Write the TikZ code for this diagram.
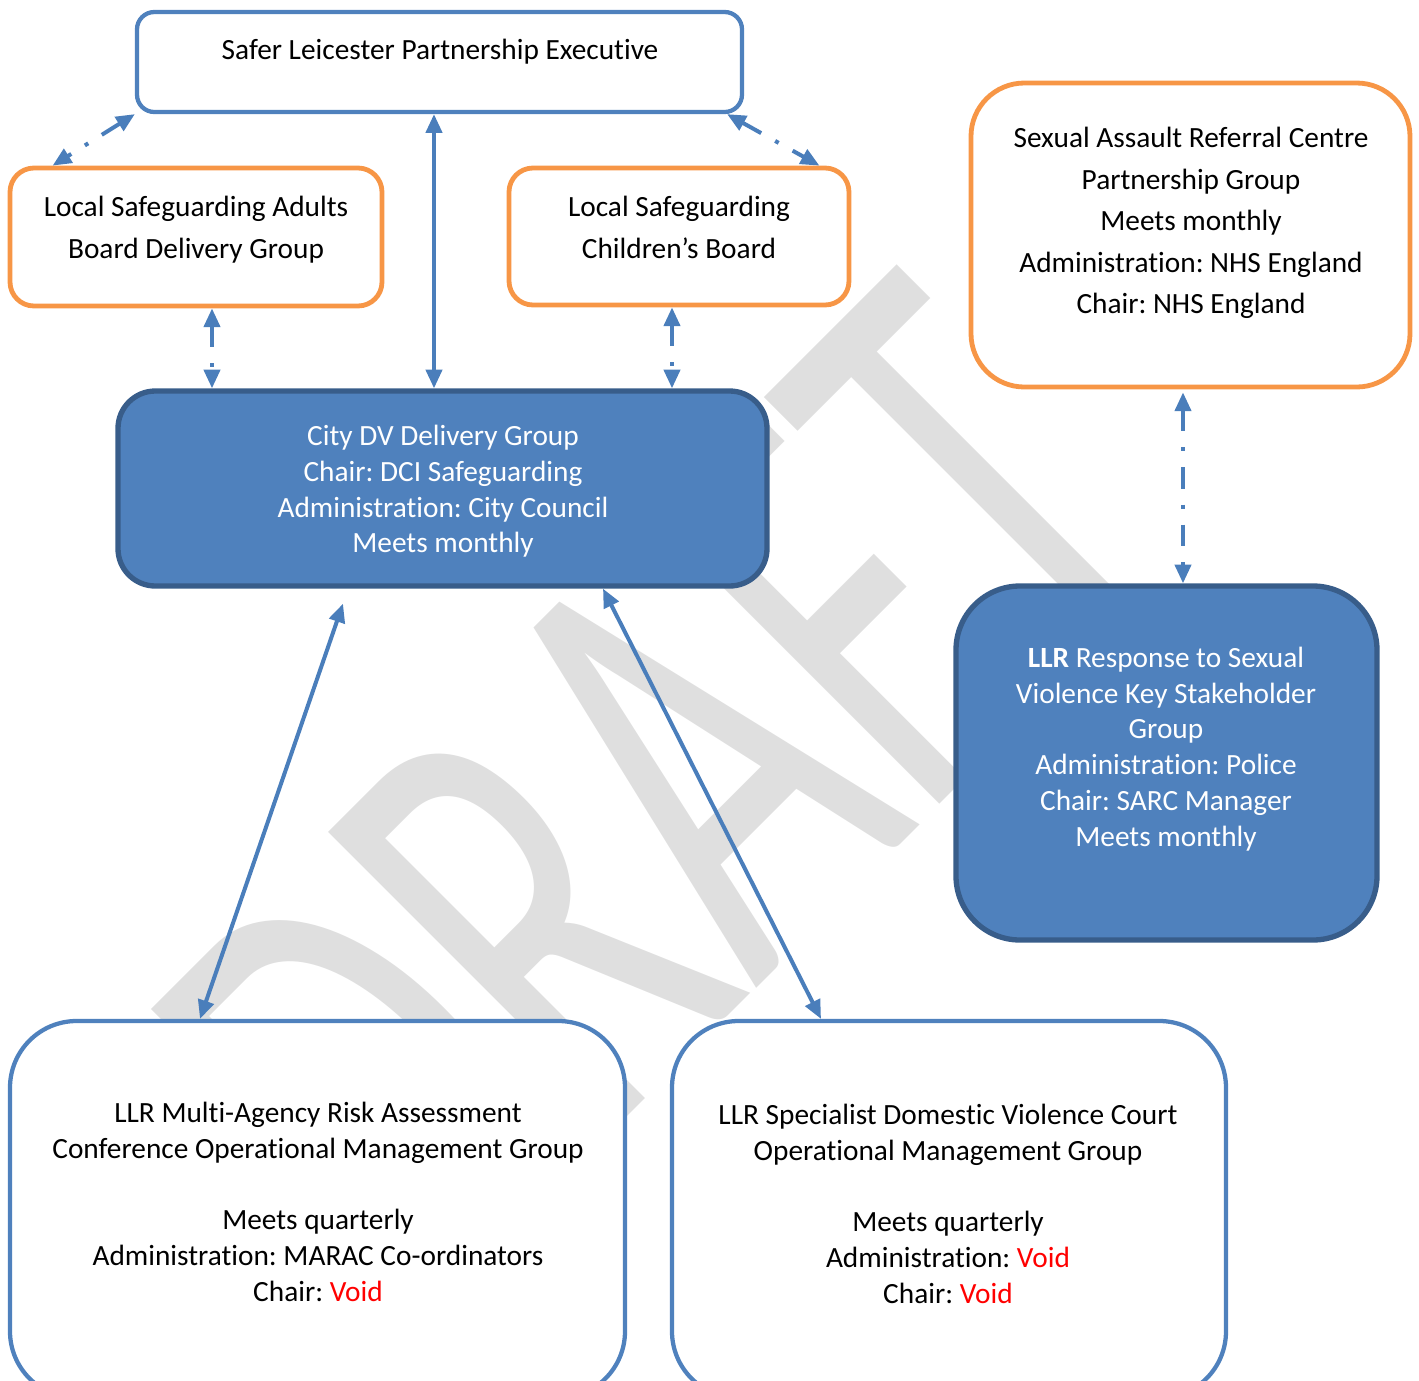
\documentclass[tikz,border=0pt]{standalone}
\usepackage{fontspec}
\setmainfont{Carlito}[Ligatures=NoCommon]
\usetikzlibrary{positioning,arrows.meta,calc}
\usepackage{xcolor}
\frenchspacing

\definecolor{boxblue}{HTML}{4F81BD}
\definecolor{edgeblue}{HTML}{385D8A}
\definecolor{lineblue}{HTML}{4A7EBB}
\definecolor{boxorange}{HTML}{F79646}

\tikzset{
  orangebox/.style={draw=boxorange,line width=1.8pt,fill=white,rounded corners=9pt},
  bluebox/.style={draw=boxblue,line width=1.6pt,fill=white},
  filledbox/.style={draw=edgeblue,line width=2pt,fill=boxblue},
  txt/.style={align=center,inner sep=0pt},
  wide/.style={font=\fontsize{11pt}{15.6pt}\selectfont},
  wmark/.style={rotate=45,xscale=0.63,inner sep=0pt,text=gray!25,font=\fontsize{241pt}{241pt}\selectfont},
  link/.style={draw=lineblue,line width=1.5pt,arrows={Triangle[length=7pt,width=6pt]-Triangle[length=7pt,width=6pt]}},
  dashlink/.style={link,dash pattern=on 8pt off 6pt on 1.5pt off 6pt}
}

\begin{document}
\begin{tikzpicture}[x=0.375pt,y=-0.375pt,every node/.style={font=\fontsize{11pt}{13.4pt}\selectfont}]
\useasboundingbox (0,0) rectangle (1419,1380);
\clip (0,0) rectangle (1419,1380);
\node[wmark] (draft) at (662,791) {DRAFT};

\node[bluebox,rounded corners=6.5pt,minimum width=605*0.375pt,minimum height=100*0.375pt] (slpe) at (439.5,62) {};
\node[txt] (slpetext) at (440,52) {Safer Leicester Partnership Executive};

\node[orangebox,minimum width=372*0.375pt,minimum height=138*0.375pt] (lsab) at (196,237) {};
\node[txt,wide] (lsabtext) at (196,229.5) {Local Safeguarding Adults\\Board Delivery Group};

\node[orangebox,minimum width=340*0.375pt,minimum height=137*0.375pt] (lscb) at (679,236.5) {};
\node[txt,wide] (lscbtext) at (679,227.5) {Local Safeguarding\\Children’s Board};

\node[orangebox,rounded corners=20pt,minimum width=439*0.375pt,minimum height=304*0.375pt] (sarc) at (1190.5,235) {};
\node[txt,wide] (sarctext) at (1191,223) {Sexual Assault Referral Centre\\Partnership Group\\Meets monthly\\Administration: NHS England\\Chair: NHS England};

\node[filledbox,rounded corners=14pt,minimum width=649*0.375pt,minimum height=195*0.375pt] (dv) at (442.5,488.5) {};
\node[txt,text=white] (dvtext) at (443,491.5) {City DV Delivery Group\\Chair: DCI Safeguarding\\Administration: City Council\\Meets monthly};

\node[filledbox,rounded corners=24pt,minimum width=421*0.375pt,minimum height=354*0.375pt] (llrsv) at (1166.5,763) {};
\node[txt,text=white] (llrsvtext) at (1166,749) {\textbf{LLR} Response to Sexual\\Violence Key Stakeholder\\Group\\Administration: Police\\Chair: SARC Manager\\Meets monthly};

\node[bluebox,rounded corners=25pt,minimum width=615*0.375pt,minimum height=377*0.375pt] (marac) at (317.5,1209.5) {};
\node[txt] (maractext) at (318,1202) {LLR Multi-Agency Risk Assessment\\Conference Operational Management Group\\[13.4pt]Meets quarterly\\Administration: MARAC Co-ordinators\\Chair: \textcolor{red}{Void}};

\node[bluebox,rounded corners=25pt,minimum width=554*0.375pt,minimum height=377*0.375pt] (sdvc) at (949,1209.5) {};
\node[txt] (sdvctext) at (948,1204) {LLR Specialist Domestic Violence Court\\Operational Management Group\\[13.4pt]Meets quarterly\\Administration: \textcolor{red}{Void}\\Chair: \textcolor{red}{Void}};

\draw[dashlink] (slpe.south west) -- ($(lsab.north west)+(45,0)$);
\draw[dashlink] ($(slpe.south east)+(-17,0)$) -- ($(lscb.north east)+(-32,0)$);
\draw[link] (slpe.south -| 434,0) -- (dv.north -| 434,0);
\draw[dashlink] (lsab.south -| 212,0) -- (dv.north -| 212,0);
\draw[dashlink] (lscb.south -| 672,0) -- (dv.north -| 672,0);
\draw[dashlink] ($(sarc.south)+(-7.5,3)$) -- (llrsv.north -| 1183,0);
\draw[link] ($(dv.south)+(-99.5,15)$) -- ($(marac.north)+(-117.5,0)$);
\draw[link] ($(dv.south)+(160.5,0)$) -- ($(sdvc.north)+(-128,0)$);
\end{tikzpicture}
\end{document}
